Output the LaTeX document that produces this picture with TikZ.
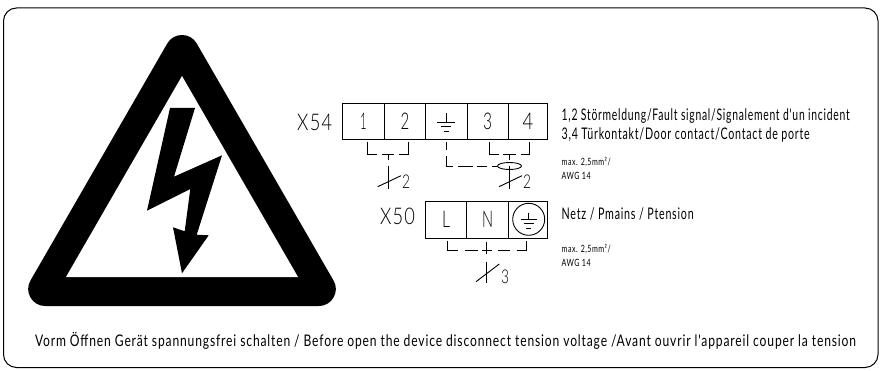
\documentclass[tikz,border=0pt]{standalone}
\usepackage{graphicx}
\usepackage{fontspec}
\setmainfont[LetterSpace=7]{Lato Light}
\newfontfamily\regfont[LetterSpace=7]{Lato}
\usetikzlibrary{calc,shapes.geometric}
\newcommand{\fitw}[2]{\resizebox{#1pt}{\height}{#2}}
\tikzset{
  x=1pt,y=-1pt,
  wire/.style={line width=0.9pt,line cap=butt,line join=miter},
  frame/.style={draw,line width=1pt,rounded corners=13pt},
  cell/.style={draw,line width=0.9pt,rectangle,inner sep=0pt,outer sep=0pt,font=\fontsize{23}{23}\selectfont},
  big/.style={inner sep=0pt,outer sep=0pt,font=\fontsize{23}{23}\selectfont},
  desc/.style={anchor=base west,inner sep=0pt,outer sep=0pt,font=\regfont\fontsize{16}{16}\selectfont},
  tiny/.style={anchor=base west,inner sep=0pt,outer sep=0pt,font=\regfont\fontsize{10}{10}\selectfont},
  count/.style={inner sep=0pt,outer sep=0pt,font=\fontsize{19}{19}\selectfont},
  bracket/.style={wire,dash pattern=on 21.3pt off 4.7pt on 12.6pt off 4.7pt on 22pt},
  stem/.style={wire,dash pattern=on 6pt off 6pt on 30pt},
}
\begin{document}
\begin{tikzpicture}
\useasboundingbox (0,0) rectangle (882,371);
\draw[frame] (3.5,8) rectangle (878,367.5);
% warning triangle
\filldraw[line width=34pt,line join=round] (182,52) -- (318.8,289) -- (45.2,289) -- cycle;
\fill[white] (182,76) -- (298,277) -- (66,277) -- cycle;
\fill (170,108) -- (195,108) -- (174,176.7) -- (222,155.3) -- (196.7,234.7) -- (208.7,235.3) -- (182,273.3) -- (173,227.3) -- (184.7,231.3) -- (190.3,189) -- (147,210.7) -- cycle;
% X54
\node[big] (x54) at (314.7,122) {\fitw{35}{X54}};
\node[cell,minimum width=41.6pt,minimum height=36pt] (c1) at (363.5,121.3) {\fitw{6.7}{1}};
\node[cell,minimum width=41.3pt,minimum height=36pt] (c2) at (405,121.3) {\fitw{8.7}{2}};
\node[cell,minimum width=41.3pt,minimum height=36pt] (c3) at (446.3,121.3) {};
\node[cell,minimum width=41.3pt,minimum height=36pt] (c4) at (487.7,121.3) {\fitw{9}{3}};
\node[cell,minimum width=39.4pt,minimum height=36pt] (c5) at (528,121.3) {\fitw{10.7}{4}};
\draw[wire] (446,113.3) -- (446,122.7) (437.3,122.7) -- (454.7,122.7) (441.3,126.9) -- (450.7,126.9) (443.7,131.5) -- (448.7,131.5);
% X54 wiring
\coordinate (a1) at (367.7,142); \coordinate (a2) at (367.7,154); \coordinate (a3) at (408.7,154); \coordinate (a4) at (408.7,142);
\coordinate (as) at (388.2,154); \coordinate (ae) at (388.2,188.7);
\coordinate (as1) at (377.7,186.7); \coordinate (as2) at (401,175.7);
\draw[bracket] (a1) -- (a2) -- (a3) -- (a4);
\draw[stem] (as) -- (ae);
\draw[wire] (as1) -- (as2);
\node[count] (n2a) at (406,181.7) {\fitw{8}{2}};
\coordinate (b1) at (489.3,142); \coordinate (b2) at (489.3,154); \coordinate (b3) at (529.7,154); \coordinate (b4) at (529.7,142);
\coordinate (bs) at (509.5,154); \coordinate (be) at (509.5,188.7);
\coordinate (bs1) at (499,186.7); \coordinate (bs2) at (522,175.7);
\draw[bracket] (b1) -- (b2) -- (b3) -- (b4);
\draw[stem] (bs) -- (be);
\draw[wire] (bs1) -- (bs2);
\node[draw,line width=0.9pt,ellipse,minimum width=24pt,minimum height=7pt,inner sep=0pt] (shield) at (509.5,166) {};
\node[count] (n2b) at (527,181.7) {\fitw{8}{2}};
\coordinate (g1) at (446,142); \coordinate (g2) at (446,166);
\draw[wire,dash pattern=on 8.3pt off 5.7pt on 16.7pt off 5.3pt on 15pt off 4pt on 10pt off 5pt on 8pt] (g1) -- (g2) -- (shield.west);
% X50
\node[big] (x50) at (397.5,216) {\fitw{35}{X50}};
\node[cell,minimum width=41.4pt,minimum height=36.3pt] (d1) at (446,219.8) {\fitw{8}{L}};
\node[cell,minimum width=41.6pt,minimum height=36.3pt] (d2) at (487.5,219.8) {\fitw{11}{N}};
\node[cell,minimum width=39pt,minimum height=36.3pt] (d3) at (527.8,219.8) {};
\node[draw,line width=0.9pt,circle,minimum size=32pt,inner sep=0pt] (pe) at (528.7,219.3) {};
\draw[wire] (528.7,212.7) -- (528.7,219.3) (520.7,219.3) -- (536.7,219.3) (523.7,223.7) -- (533.7,223.7) (526.2,228.7) -- (531.2,228.7);
\coordinate (e1) at (447.3,241); \coordinate (e2) at (447.3,250); \coordinate (e3) at (526.7,250); \coordinate (e4) at (526.7,241);
\coordinate (es) at (486.5,241.5); \coordinate (ee) at (486.5,283.3);
\coordinate (es1) at (476,281.7); \coordinate (es2) at (499.3,264);
\draw[wire,dash pattern=on 20pt off 6.7pt on 13.3pt off 3.4pt on 10pt off 6.3pt on 12pt off 6.7pt on 20pt] (e1) -- (e2) -- (e3) -- (e4);
\draw[wire,dash pattern=on 12.5pt off 7.7pt on 30pt] (es) -- (ee);
\draw[wire] (es1) -- (es2);
\node[count] (n3) at (505,277) {\fitw{8}{3}};
% descriptions
\node[desc] (t1) at (561.7,121) {\fitw{288}{1,2 Störmeldung/Fault signal/Signalement d'un incident}};
\node[desc] (t2) at (561.7,139.3) {\fitw{248}{3,4 Türkontakt/Door contact/Contact de porte}};
\node[tiny] (t3) at (561.7,165.7) {\fitw{49}{max. 2,5mm²/}};
\node[tiny] (t4) at (561.7,179.3) {\fitw{29}{AWG 14}};
\node[desc] (t5) at (561.7,219.3) {\fitw{132}{Netz / Pmains / Ptension}};
\node[tiny] (t6) at (561.7,252.7) {\fitw{49}{max. 2,5mm²/}};
\node[tiny] (t7) at (561.7,266.7) {\fitw{29}{AWG 14}};
\node[desc] (t8) at (35,346) {\fitw{821}{Vorm Öffnen Gerät spannungsfrei schalten / Before open the device disconnect tension voltage /Avant ouvrir l'appareil couper la tension}};
\end{tikzpicture}
\end{document}
